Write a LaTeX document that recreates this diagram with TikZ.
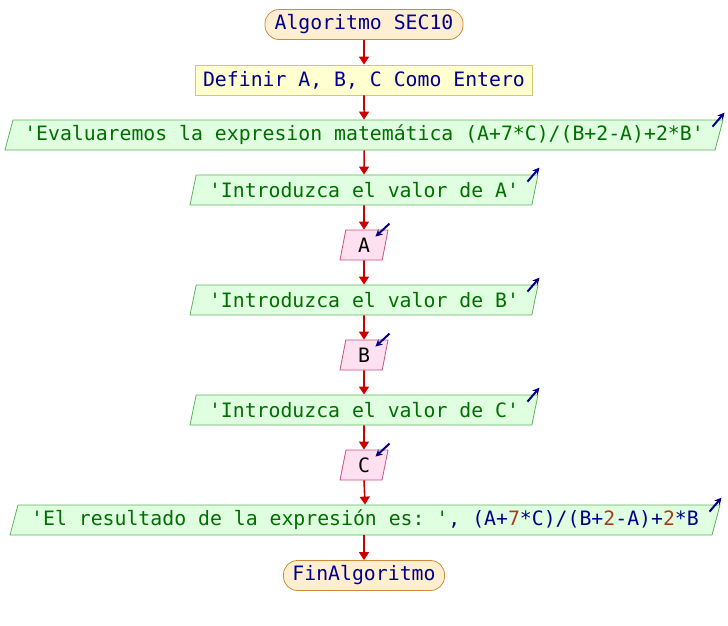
\documentclass[tikz,border=0pt]{standalone}
\usepackage{fontspec}
\setmonofont{DejaVu Sans Mono}
\usetikzlibrary{shapes.geometric,arrows.meta}
\definecolor{kwnavy}{RGB}{0,0,140}
\definecolor{strgreen}{RGB}{0,110,0}
\definecolor{numbrown}{RGB}{170,60,30}
\definecolor{flowred}{RGB}{204,0,0}
\definecolor{termfill}{RGB}{255,238,208}
\definecolor{termedge}{RGB}{205,140,60}
\definecolor{deffill}{RGB}{255,255,208}
\definecolor{defedge}{RGB}{210,200,110}
\definecolor{outfill}{RGB}{224,255,224}
\definecolor{outedge}{RGB}{90,180,90}
\definecolor{infill}{RGB}{255,224,240}
\definecolor{inedge}{RGB}{200,80,130}
\tikzset{
  base/.style={minimum height=30pt,inner sep=0pt,line width=0.8pt,
    font=\ttfamily\fontsize{19.8}{20}\selectfont},
  term/.style={base,draw=termedge,fill=termfill,rounded corners=14pt,text=kwnavy},
  defbox/.style={base,draw=defedge,fill=deffill,text=kwnavy},
  outbox/.style={base,shape=trapezium,trapezium left angle=68.2,
    trapezium right angle=111.8,trapezium stretches body,
    draw=outedge,fill=outfill,text=strgreen},
  inbox/.style={outbox,draw=inedge,fill=infill,text=black},
  flow/.style={draw=flowred,line width=1.6pt,-{Triangle[width=10pt,length=8pt]}},
  iomark/.style={draw=kwnavy,line width=2pt,-{Stealth[length=7pt,width=7pt]}}
}
\begin{document}
\begin{tikzpicture}[x=1pt,y=-1pt]
\useasboundingbox (0,0) rectangle (728,625);
\node[term,minimum width=198pt] (start) at (364,24.5) {Algoritmo SEC10};
\node[defbox,minimum width=337pt] (def) at (364,80) {Definir A, B, C Como Entero};
\node[outbox,minimum width=718pt] (eval) at (364,135)
  {'Evaluaremos la expresion matemática (A+7*C)/(B+2-A)+2*B'};
\node[outbox,minimum width=348pt] (askA) at (364,190) {'Introduzca el valor de A'};
\node[inbox,minimum width=48pt] (readA) at (364,245) {A};
\node[outbox,minimum width=348pt] (askB) at (364,300) {'Introduzca el valor de B'};
\node[inbox,minimum width=48pt] (readB) at (364,355) {B};
\node[outbox,minimum width=348pt] (askC) at (364,410) {'Introduzca el valor de C'};
\node[inbox,minimum width=48pt] (readC) at (364,465) {C};
\node[outbox,minimum width=710pt] (result) at (365,520)
  {'El resultado de la expresión es: '\textcolor{kwnavy}{, (A+\textcolor{numbrown}{7}*C)/(B+\textcolor{numbrown}{2}-A)+\textcolor{numbrown}{2}*B}};
\node[term,minimum width=161pt] (stop) at (364,575.5) {FinAlgoritmo};
\foreach \a/\b in {start/def,def/eval,eval/askA,askA/readA,readA/askB,askB/readB,
  readB/askC,askC/readC,readC/result}
  \draw[flow] (\a.south) -- (\b.north);
\draw[flow] (result.south -| stop) -- (stop.north);
\foreach \n in {eval,askA,askB,askC,result}
  \draw[iomark] ([shift={(-11,7)}]\n.top right corner) -- ([shift={(1,-7)}]\n.top right corner);
\foreach \n in {readA,readB,readC}
  \draw[iomark] ([shift={(1,-6)}]\n.top right corner) -- ([shift={(-13,7)}]\n.top right corner);
\end{tikzpicture}
\end{document}
